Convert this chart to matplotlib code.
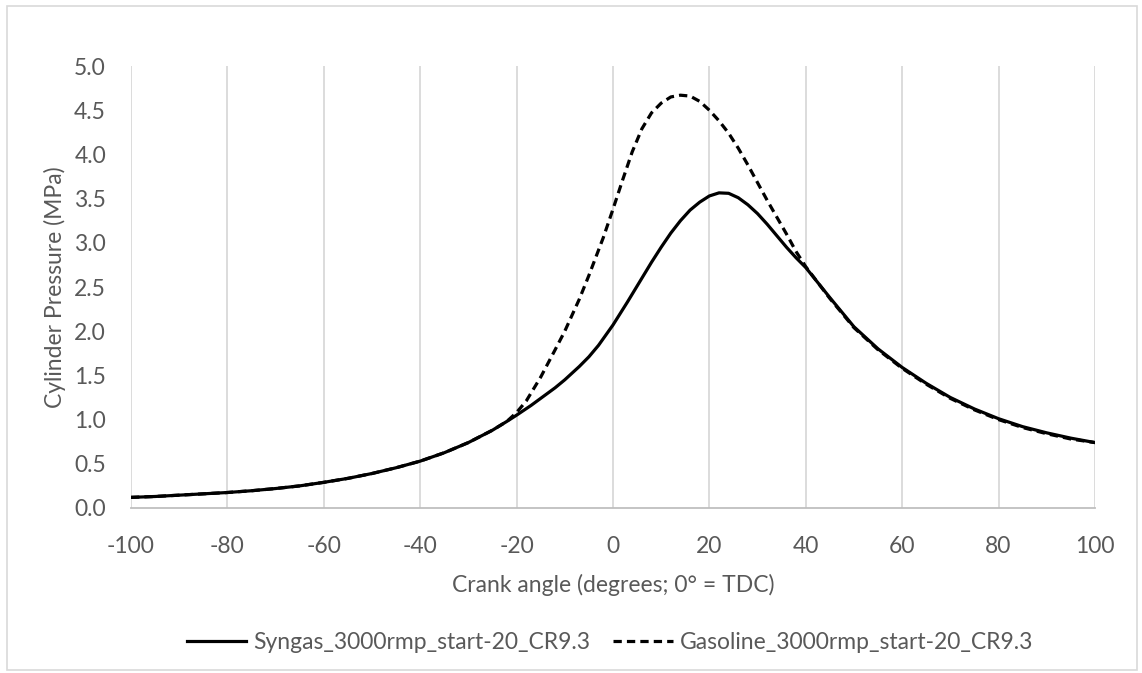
import numpy as np
import matplotlib
matplotlib.use("Agg")
import matplotlib.pyplot as plt
from matplotlib.patches import Rectangle
from matplotlib.ticker import FuncFormatter

# crank angle (deg) and pressure (MPa)
syngas_angle = [-100, -95, -90, -85, -80, -75, -70, -65, -60, -55, -50, -45, -40, -35,
                -30, -25, -22, -20, -17, -15, -12, -10, -7, -5, -3, 0, 3, 5, 8, 10, 12,
                14, 16, 18, 20, 22, 24, 26, 28, 30, 32, 34, 36, 38, 40, 45, 50, 55, 60,
                65, 70, 75, 80, 85, 90, 95, 100]
syngas_p = [0.12, 0.13, 0.145, 0.16, 0.175, 0.195, 0.22, 0.25, 0.29, 0.335, 0.39, 0.455,
            0.53, 0.625, 0.74, 0.88, 0.98, 1.05, 1.16, 1.24, 1.36, 1.45, 1.60, 1.71,
            1.84, 2.07, 2.33, 2.51, 2.78, 2.95, 3.11, 3.25, 3.37, 3.46, 3.53, 3.565,
            3.56, 3.51, 3.43, 3.33, 3.21, 3.08, 2.95, 2.83, 2.72, 2.38, 2.05, 1.80,
            1.59, 1.41, 1.25, 1.12, 1.01, 0.92, 0.85, 0.79, 0.74]

gasoline_angle = [-100, -95, -90, -85, -80, -75, -70, -65, -60, -55, -50, -45, -40, -35,
                  -30, -25, -22, -20, -18, -15, -12, -10, -7, -5, -2, 0, 2, 4, 6, 8, 10,
                  12, 14, 16, 18, 20, 22, 24, 26, 28, 30, 32, 34, 36, 38, 40, 45, 50, 55,
                  60, 65, 70, 75, 80, 85, 90, 95, 100]
gasoline_p = [0.12, 0.13, 0.145, 0.16, 0.175, 0.195, 0.22, 0.25, 0.29, 0.335, 0.39, 0.455,
              0.53, 0.625, 0.74, 0.88, 0.98, 1.08, 1.21, 1.48, 1.79, 2.0, 2.36, 2.63, 3.06,
              3.38, 3.71, 4.03, 4.29, 4.47, 4.58, 4.65, 4.67, 4.66, 4.60, 4.50, 4.38, 4.24,
              4.07, 3.88, 3.68, 3.48, 3.29, 3.10, 2.90, 2.73, 2.37, 2.04, 1.79, 1.58, 1.40,
              1.24, 1.11, 1.00, 0.91, 0.84, 0.78, 0.74]

x_ticks = list(range(-100, 101, 20))
y_ticks = [0.0, 0.5, 1.0, 1.5, 2.0, 2.5, 3.0, 3.5, 4.0, 4.5, 5.0]

plt.rcParams['font.family'] = ['Lato', 'DejaVu Sans']
plt.rcParams['axes.unicode_minus'] = False
txt = '#595959'
fs = 16.5

fig = plt.figure(figsize=(11.42, 6.73), dpi=100)
ax = fig.add_axes([0.1147, 0.2452, 0.8441, 0.6567])

ax.plot(syngas_angle, syngas_p, color='black', lw=2.3,
        label='Syngas_3000rmp_start-20_CR9.3', zorder=3)
ax.plot(gasoline_angle, gasoline_p, color='black', lw=2.3, dashes=(2.6, 1.6),
        label='Gasoline_3000rmp_start-20_CR9.3', zorder=3)

ax.set_xlim(-100, 100)
ax.set_ylim(0, 5)
ax.set_xticks(x_ticks)
ax.set_yticks(y_ticks)
ax.xaxis.set_major_formatter(FuncFormatter(lambda v, p: '%d' % v))
ax.yaxis.set_major_formatter(FuncFormatter(lambda v, p: '%.1f' % v))
ax.grid(axis='x', color='#d9d9d9', lw=1.3)
ax.grid(axis='y', visible=False)
ax.set_axisbelow(True)
for s in ['top', 'right', 'left']:
    ax.spines[s].set_visible(False)
ax.spines['bottom'].set_color('#bfbfbf')
ax.spines['bottom'].set_linewidth(1.3)
ax.tick_params(length=0, labelsize=fs, colors=txt)
ax.tick_params(axis='x', pad=20)
ax.tick_params(axis='y', pad=18)

ax.set_xlabel('Crank angle (degrees; 0° = TDC)', fontsize=fs, color=txt, labelpad=12)
ax.set_ylabel('Cylinder Pressure (MPa)', fontsize=fs, color=txt, labelpad=6)

fig.legend(loc='center', bbox_to_anchor=(0.534, 0.046), ncol=2, frameon=False,
           fontsize=fs, labelcolor=txt, handlelength=2.6, columnspacing=1.0,
           handletextpad=0.3)

fig.patches.append(Rectangle((7 / 1142, 3 / 673), 1130 / 1142, 664 / 673,
                             transform=fig.transFigure, fill=False,
                             edgecolor='#d9d9d9', lw=1.2))

fig.savefig('out.png', dpi=100)
